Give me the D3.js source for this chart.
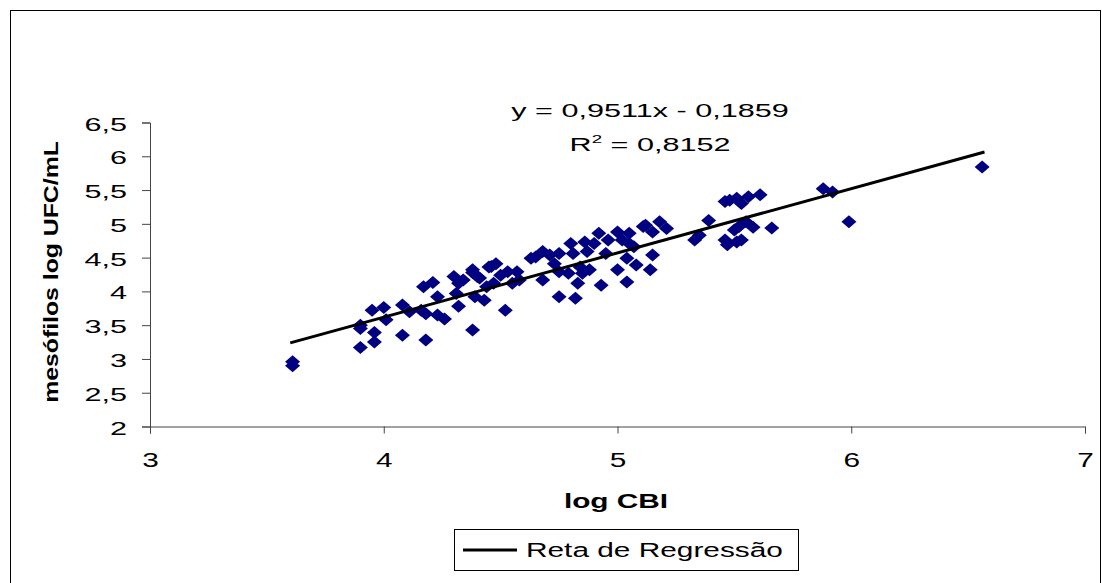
<!DOCTYPE html>
<html><head><meta charset="utf-8">
<script src="https://cdn.jsdelivr.net/npm/d3@7/dist/d3.min.js"></script>
<style>body{margin:0;background:#fff}svg{display:block}text{font-family:"Liberation Sans",Arial,sans-serif}</style>
</head><body>
<svg id="c" width="1102" height="583"></svg>
<script>
const xTicks=[3,4,5,6,7];
const yTicks=[2,2.5,3,3.5,4,4.5,5,5.5,6,6.5];
const xVals=[3.61,3.61,3.90,3.90,3.90,3.96,3.96,3.95,4.00,4.01,4.08,4.08,4.11,4.17,4.21,4.16,4.18,4.18,4.23,4.23,4.26,4.30,4.32,4.34,4.31,4.32,4.38,4.38,4.40,4.39,4.43,4.45,4.44,4.38,4.41,4.46,4.48,4.47,4.50,4.53,4.52,4.57,4.58,4.55,4.63,4.65,4.68,4.68,4.71,4.73,4.75,4.75,4.75,4.79,4.80,4.82,4.81,4.83,4.84,4.86,4.85,4.87,4.88,4.92,4.90,4.93,4.95,4.96,5.00,5.00,5.02,5.04,5.04,5.05,5.07,5.08,5.11,5.12,5.15,5.18,5.21,5.15,5.14,5.05,5.33,5.35,5.39,5.46,5.48,5.51,5.53,5.56,5.61,5.46,5.47,5.51,5.53,5.50,5.52,5.55,5.58,5.66,5.88,5.92,5.99,6.56];
const yVals=[2.96,2.90,3.50,3.45,3.17,3.39,3.25,3.72,3.76,3.58,3.80,3.35,3.70,4.07,4.13,3.72,3.67,3.28,3.92,3.65,3.59,4.22,4.12,4.17,3.97,3.78,4.32,3.43,4.22,3.92,3.87,4.36,4.07,4.28,4.20,4.37,4.41,4.12,4.24,4.29,3.72,4.29,4.17,4.12,4.49,4.51,4.59,4.17,4.54,4.41,4.56,3.92,4.29,4.27,4.71,3.90,4.56,4.12,4.36,4.73,4.27,4.59,4.32,4.86,4.71,4.09,4.56,4.76,4.88,4.32,4.76,4.49,4.14,4.86,4.66,4.39,4.96,4.98,4.88,5.03,4.93,4.54,4.32,4.71,4.76,4.83,5.05,5.33,5.35,5.38,5.30,5.40,5.43,4.76,4.69,4.73,4.76,4.91,4.96,5.03,4.95,4.94,5.52,5.47,5.03,5.84];
const slope=0.9511, intercept=-0.1859;
const fitRange=[3.6,6.57];
const eqText="y = 0,9511x - 0,1859";
const r2Text="= 0,8152";
const xTitle="log CBI", yTitle="mesófilos log UFC/mL", legendLabel="Reta de Regressão";

const svg=d3.select("#c");
svg.append("rect").attr("x",10.5).attr("y",10.5).attr("width",1090).attr("height",580).attr("fill","#fff").attr("stroke","#000").attr("stroke-width",1);

const x=d3.scaleLinear().domain([3,7]).range([150,1085]);
const y=d3.scaleLinear().domain([2,6.5]).range([426.5,122.5]);

// y axis
const ya=svg.append("g").attr("transform","translate(150,0)").call(d3.axisLeft(y).tickValues(yTicks).tickSize(8).tickFormat(d=>String(d).replace(".",",")));
ya.selectAll("text").attr("font-size",18).attr("fill","#000").attr("x",0).attr("dy","0.42em")
  .attr("transform","translate(-23,0) scale(1.7,1)");
ya.selectAll("line,path").attr("stroke","#444");
// x axis
const xa=svg.append("g").attr("transform","translate(0,426.5)").call(d3.axisBottom(x).tickValues(xTicks).tickSize(7).tickSizeOuter(7).tickFormat(d=>d));
xa.selectAll("text").attr("font-size",21).attr("fill","#000").attr("y",0).attr("dy",0)
  .attr("transform","translate(0,40.5) scale(1.42,1)");
xa.selectAll("line,path").attr("stroke","#444");

// points
const diamond={draw(ctx,size){const w=7.5,h=6.5;ctx.moveTo(0,-h);ctx.lineTo(w,0);ctx.lineTo(0,h);ctx.lineTo(-w,0);ctx.closePath();}};
const pts=xVals.map((v,i)=>[v,yVals[i]]);
svg.append("g").selectAll("path").data(pts).join("path")
 .attr("d",d3.symbol().type(diamond)).attr("transform",d=>`translate(${x(d[0])},${y(d[1])})`).attr("fill","#000080");

// regression
svg.append("line").attr("x1",x(fitRange[0])).attr("y1",y(slope*fitRange[0]+intercept))
 .attr("x2",x(fitRange[1])).attr("y2",y(slope*fitRange[1]+intercept)).attr("stroke","#000").attr("stroke-width",3);

// equation
svg.append("text").attr("transform","translate(650,117) scale(1.7,1)").attr("text-anchor","middle").attr("font-size",18).text(eqText);
const r=svg.append("text").attr("transform","translate(650,151) scale(1.7,1)").attr("text-anchor","middle").attr("font-size",18);
r.append("tspan").text("R");
r.append("tspan").attr("font-size",11).attr("dy",-8).text("2");
r.append("tspan").attr("dy",8).text(" "+r2Text);

// titles
svg.append("text").attr("transform","translate(616,508) scale(1.42,1)").attr("text-anchor","middle").attr("font-size",21).attr("font-weight","bold").text(xTitle);
svg.append("text").attr("transform","translate(58,272) rotate(-90) scale(1.24,1)").attr("text-anchor","middle").attr("font-size",20).attr("font-weight","bold").text(yTitle);

// legend
svg.append("rect").attr("x",454.5).attr("y",529.5).attr("width",344).attr("height",41).attr("fill","#fff").attr("stroke","#000");
svg.append("line").attr("x1",463).attr("x2",517).attr("y1",550).attr("y2",550).attr("stroke","#000").attr("stroke-width",3);
svg.append("text").attr("transform","translate(526,557) scale(1.53,1)").attr("font-size",19.5).text(legendLabel);
</script>
</body></html>
